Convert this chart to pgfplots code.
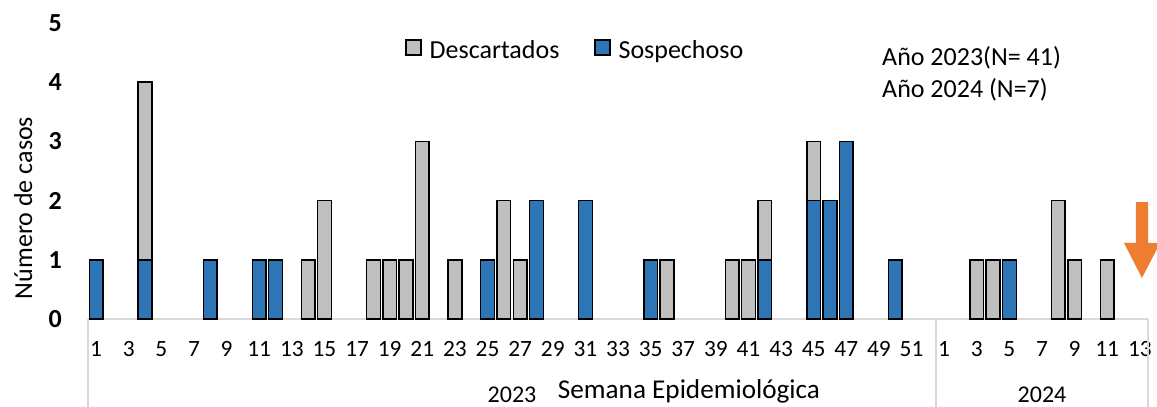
\documentclass[border=0pt]{standalone}
\usepackage{pgfplots}
\pgfplotsset{compat=1.18}
\usepackage{pgfplotstable}
\usepackage{fontspec}
\setmainfont{Carlito}
\definecolor{sosp}{HTML}{2E75B6}
\definecolor{desc}{HTML}{BFBFBF}
\definecolor{sepc}{HTML}{D9D9D9}
\definecolor{arrowc}{HTML}{ED7D31}
\newcommand\T[1]{\textrm{#1}}
\pgfplotsset{sqleg/.style={legend image code/.code={\draw[##1] (0pt,-3.5pt) rectangle (11.25pt,7.75pt);}}}

% x = position (1-52: 2023 weeks, 53-65: 2024 weeks 1-13), s = Sospechoso, d = Descartados
\pgfplotstableread{
x s d
1 1 0
2 0 0
3 0 0
4 1 3
5 0 0
6 0 0
7 0 0
8 1 0
9 0 0
10 0 0
11 1 0
12 1 0
13 0 0
14 0 1
15 0 2
16 0 0
17 0 0
18 0 1
19 0 1
20 0 1
21 0 3
22 0 0
23 0 1
24 0 0
25 1 0
26 0 2
27 0 1
28 2 0
29 0 0
30 0 0
31 2 0
32 0 0
33 0 0
34 0 0
35 1 0
36 0 1
37 0 0
38 0 0
39 0 0
40 0 1
41 0 1
42 1 1
43 0 0
44 0 0
45 2 1
46 2 0
47 3 0
48 0 0
49 0 0
50 1 0
51 0 0
52 0 0
53 0 0
54 0 0
55 0 1
56 0 1
57 1 0
58 0 0
59 0 0
60 0 2
61 0 1
62 0 0
63 0 1
64 0 0
65 0 0
}\datatable

\begin{document}
\begin{tikzpicture}
\path[use as bounding box] (0,0) rectangle (867.75pt,305.25pt);
\begin{axis}[
  at={(66pt,66pt)}, anchor=south west,
  scale only axis, width=795pt, height=222pt,
  xmin=0.5, xmax=65.5, ymin=0, ymax=5,
  ybar stacked, bar width=0.84,
  clip=false,
  axis line style={draw=none},
  major tick style={draw=none},
  major tick length=0pt,
  xtick={1,3,5,7,9,11,13,15,17,19,21,23,25,27,29,31,33,35,37,39,41,43,45,47,49,51,53,55,57,59,61,63,65},
  xticklabels={\T{1},\T{3},\T{5},\T{7},\T{9},\T{11},\T{13},\T{15},\T{17},\T{19},\T{21},\T{23},\T{25},\T{27},\T{29},\T{31},\T{33},\T{35},\T{37},\T{39},\T{41},\T{43},\T{45},\T{47},\T{49},\T{51},\T{1},\T{3},\T{5},\T{7},\T{9},\T{11},\T{13}},
  ytick={0,1,2,3,4,5},
  /pgf/number format/assume math mode=true,
  xticklabel style={font=\fontsize{17.5}{20}\selectfont, anchor=base, inner sep=0pt, yshift=-28.5pt},
  yticklabel style={font=\fontsize{19.5}{23}\selectfont\bfseries, anchor=east, inner sep=0pt, xshift=-19.5pt},
  xlabel={Semana Epidemiológica},
  xlabel style={at={(axis description cs:0.567,-0.267)}, anchor=base, inner sep=0pt, font=\fontsize{20.4}{24}\selectfont},
  ylabel={Número de casos},
  ylabel style={at={(axis description cs:-0.0528,0.375)}, anchor=base, inner sep=0pt, font=\fontsize{19.5}{23}\selectfont},
  legend style={at={(rel axis cs:0.299,0.909)}, anchor=west, draw=none, fill=none, inner sep=0pt,
    font=\fontsize{19.5}{23}\selectfont, nodes={inner sep=0pt},
    /tikz/every odd column/.append style={column sep=6pt},
    /tikz/every even column/.append style={column sep=26pt}},
  legend columns=2,
]
\addlegendimage{fill=desc, draw=black, line width=1.1pt, sqleg}
\addlegendentry{Descartados}
\addlegendimage{fill=sosp, draw=black, line width=1.1pt, sqleg}
\addlegendentry{Sospechoso}
\addplot[fill=sosp, draw=black, line width=1.1pt] table[x=x, y=s] {\datatable};
\addplot[fill=desc, draw=black, line width=1.1pt] table[x=x, y=d] {\datatable};
% baseline and group separators
\draw[sepc, line width=1.3pt] (axis cs:0.5,0) -- (axis cs:65.5,0);
\draw[sepc, line width=1.1pt] (axis cs:0.5,0) -- ++(0pt,-70pt);
\draw[sepc, line width=1.1pt] (axis cs:52.5,0) -- ++(0pt,-70pt);
\draw[sepc, line width=1.1pt] (axis cs:65.5,0) -- ++(0pt,-70pt);
\node[anchor=base, inner sep=0pt, font=\fontsize{18}{21}\selectfont, yshift=-62.5pt] at (axis cs:26.5,0) {2023};
\node[anchor=base, inner sep=0pt, font=\fontsize{18}{21}\selectfont, yshift=-63pt] at (axis cs:59,0) {2024};
% annotations
\node[anchor=base west, inner sep=0pt, font=\fontsize{19.5}{23}\selectfont] at (rel axis cs:0.749,0.855) {Año 2023(N= 41)};
\node[anchor=base west, inner sep=0pt, font=\fontsize{19.5}{23}\selectfont] at (rel axis cs:0.749,0.748) {Año 2024 (N=7)};
% arrow
\fill[arrowc] (axis cs:64.76,1.976) -- (axis cs:65.5,1.976) -- (axis cs:65.5,1.284) -- (axis cs:66.24,1.284)
  -- (axis cs:65.13,0.693) -- (axis cs:64.03,1.284) -- (axis cs:64.76,1.284) -- cycle;
\end{axis}
\end{tikzpicture}
\end{document}
